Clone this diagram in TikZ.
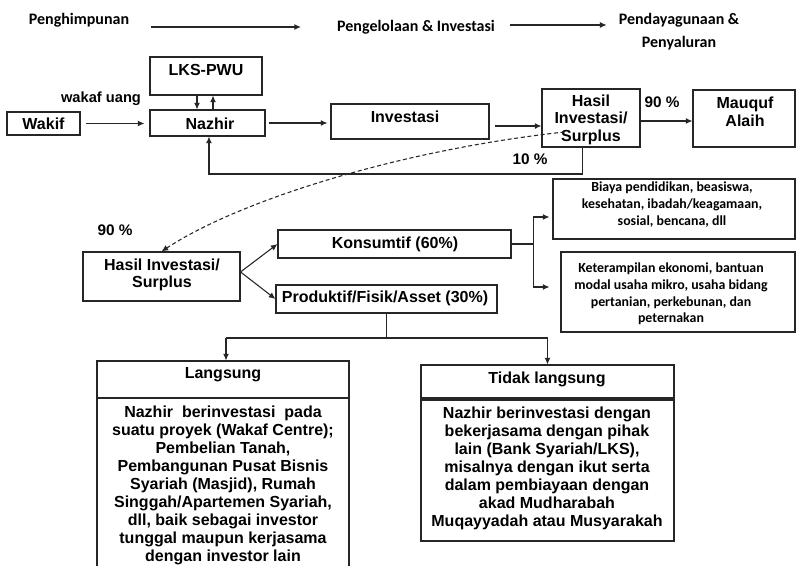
\documentclass[tikz,border=0pt]{standalone}
\usepackage{fontspec}
\setmainfont{Liberation Sans}
\newfontfamily\calfont{Carlito}
\usetikzlibrary{arrows.meta,fit}
\begin{document}
\begin{tikzpicture}[x=0.75pt,y=-0.75pt,
  box/.style={draw=black!85,line width=0.8pt,inner sep=0pt},
  lbl/.style={font=\bfseries\fontsize{12}{13.5}\selectfont,align=center,inner sep=0pt},
  pct/.style={font=\bfseries\fontsize{11.5}{13}\selectfont,inner sep=0pt},
  hdr/.style={font=\calfont\bfseries\fontsize{12}{17.25}\selectfont,align=center,inner sep=0pt},
  note/.style={font=\calfont\bfseries\fontsize{10.4}{13}\selectfont,align=center,inner sep=0pt},
  ln/.style={draw=black!85,line width=0.8pt},
  arr/.style={ln,-{Latex[length=5pt,width=4.5pt]}}]
\clip (0,0) rectangle (796,566);
\fill[white] (0,0) rectangle (796,566);

% header
\node[hdr] (h1) at (79,20) {Penghimpunan};
\node[hdr] (h2) at (416,27) {Pengelolaan \& Investasi};
\node[hdr] (h3) at (679,31.5) {Pendayagunaan \&\\Penyaluran};
\draw[arr,shorten <=16.5pt,shorten >=27pt] (h1.east |- h2.west) -- (h2.west);
\draw[arr,shorten <=11.25pt,shorten >=9pt] ([yshift=1.5pt]h2.east) -- ([yshift=1.5pt]h2.east -| h3.west);

% top row
\node[box,fit={(150,57)(262,95)}] (lks) {};
\node[lbl] (lkst) at (206,70) {LKS-PWU};
\node[box,fit={(7,112)(80,135)}] (wakif) {};
\node[lbl] (wakift) at (43.5,124) {Wakif};
\node[box,fit={(150,110)(265,136)}] (nazhir) {};
\node[lbl] (nazhirt) at (210,124) {Nazhir};
\node[lbl,font=\bfseries\fontsize{11}{13}\selectfont] (wu) at (101,99) {wakaf uang};
\node[box,fit={(331,104)(489,139)}] (inv) {};
\node[lbl] (invt) at (405,117) {Investasi};
\node[box,fit={(542,89)(640,147)}] (hasil) {};
\node[lbl,font=\bfseries\fontsize{12}{13.1}\selectfont] (hasilt) at (591,119.5) {Hasil\\Investasi/\\Surplus};
\node[pct] (p90a) at (662,102) {90 \%};
\node[box,fit={(693,90)(795,147)}] (mauquf) {};
\node[lbl] (mauquft) at (745,112) {Mauquf\\Alaih};
\node[pct] (p10) at (530,159) {10 \%};

\draw[arr,shorten <=3.75pt,shorten >=3.75pt] (wakif.east) -- (wakif.east -| nazhir.west);
\draw[arr] ([xshift=-6.75pt]lks.south) -- ([xshift=-6.75pt]lks.south |- nazhir.north);
\draw[arr] ([xshift=5.25pt]lks.south |- nazhir.north) -- ([xshift=5.25pt]lks.south);
\draw[arr,shorten <=2.25pt,shorten >=2.25pt] (nazhir.east) -- (nazhir.east -| inv.west);
\draw[arr,shorten <=3.75pt] ([yshift=-3.4pt]inv.east) -- ([yshift=-3.4pt]inv.east -| hasil.west);
\draw[arr] ([yshift=-2.25pt]hasil.east) -- ([yshift=-2.25pt]hasil.east -| mauquf.west);
\coordinate (fb) at (0,174);
\draw[arr] ([xshift=-6.2pt]hasil.south) |- ([xshift=1.1pt]nazhir.south |- fb) -- ([xshift=1.1pt]nazhir.south);

% middle
\node[pct] (p90b) at (115,230) {90 \%};
\node[box,fit={(83,252)(240,301)}] (hasil2) {};
\node[lbl,font=\bfseries\fontsize{12}{12.5}\selectfont] (hasil2t) at (162,275) {Hasil Investasi/\\Surplus};
\node[box,fit={(278,230)(511,258)}] (kons) {};
\node[lbl] (konst) at (395,244) {Konsumtif (60\%)};
\node[box,fit={(276,285)(497,313)}] (prod) {};
\node[lbl] (prodt) at (385,298) {Produktif/Fisik/Asset (30\%)};
\node[box,fit={(553,179)(795,239)}] (biaya) {};
\node[note] (biayat) at (672,204.5) {Biaya pendidikan, beasiswa,\\kesehatan, ibadah/keagamaan,\\sosial, bencana, dll};
\node[box,fit={(561,252)(795,332)}] (ket) {};
\node[note,font=\calfont\bfseries\fontsize{10.4}{12.5}\selectfont] (kett) at (671,294) {Keterampilan ekonomi, bantuan\\modal usaha mikro, usaha bidang\\pertanian, perkebunan, dan\\peternakan};

\draw[arr,dashed,dash pattern=on 3pt off 2pt] ([xshift=17.25pt,yshift=-10.5pt]hasil.west) .. controls (400,150) and (240,200) .. (hasil2.north);
\draw[arr] ([yshift=3.4pt]hasil2.east) -- (kons.west);
\draw[arr] ([yshift=3.4pt]hasil2.east) -- (prod.west);
\draw[ln] (kons.east) -- ++(22,0) coordinate (kb);
\draw[arr,shorten >=2.25pt] (kb) |- ([yshift=-6pt]biaya.west);
\draw[arr,shorten >=8.25pt] (kb) |- ([yshift=3.75pt]ket.west);

% bottom
\node[box,fit={(97,361)(349,398)}] (langh) {};
\node[lbl] (langht) at (223,375) {Langsung};
\node[box,fit={(97,398)(349,580)}] (langb) {};
\node[lbl] (langbt) at (223,485) {Nazhir\ \ berinvestasi\ \ pada\\suatu proyek (Wakaf Centre);\\Pembelian Tanah,\\Pembangunan Pusat Bisnis\\Syariah (Masjid), Rumah\\Singgah/Apartemen Syariah,\\dll, baik sebagai investor\\tunggal maupun kerjasama\\dengan investor lain};
\node[box,fit={(421,365)(674,398)}] (tidh) {};
\node[lbl] (tidht) at (547,379) {Tidak langsung};
\node[box,fit={(421,400)(674,541)}] (tidb) {};
\node[lbl] (tidbt) at (547,468) {Nazhir berinvestasi dengan\\bekerjasama dengan pihak\\lain (Bank Syariah/LKS),\\misalnya dengan ikut serta\\dalam pembiayaan dengan\\akad Mudharabah\\Muqayyadah atau Musyarakah};

\coordinate (sp) at (0,338);
\draw[ln] (prod.south) -- (prod.south |- sp);
\draw[ln] ([xshift=2.25pt]langh.north |- sp) -- (tidh.north |- sp);
\draw[arr] ([xshift=2.25pt]langh.north |- sp) -- ([xshift=2.25pt]langh.north);
\draw[arr] (tidh.north |- sp) -- (tidh.north);
\end{tikzpicture}
\end{document}
